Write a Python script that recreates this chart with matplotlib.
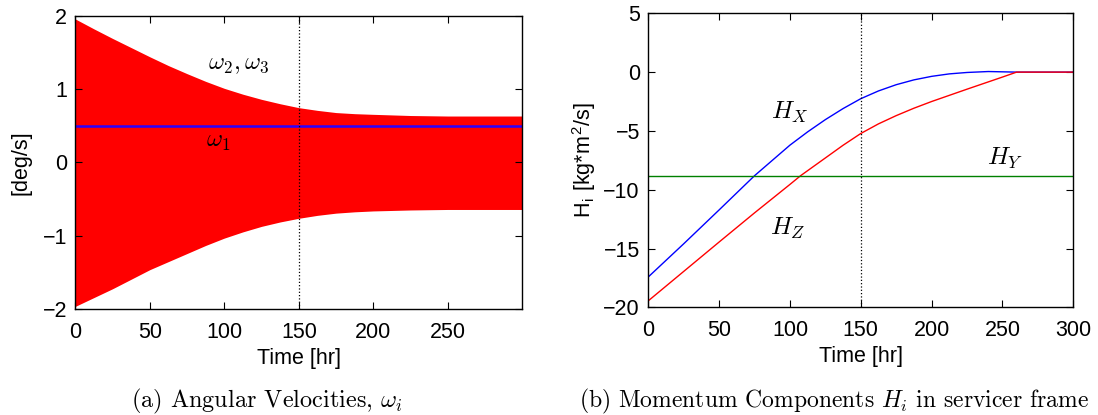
import numpy as np
import matplotlib
matplotlib.use("Agg")
import matplotlib.pyplot as plt

plt.rcParams['font.family'] = ['Liberation Sans', 'DejaVu Sans']
plt.rcParams['mathtext.fontset'] = 'cm'

# (a) envelope of omega_2, omega_3 [deg/s]
t_env = [0, 12.5, 25, 37.5, 50, 62.5, 75, 87.5, 100, 112.5, 125, 137.5, 150,
         162.5, 175, 187.5, 200, 225, 250, 275, 300]
w_upper = [1.955, 1.82, 1.69, 1.565, 1.44, 1.32, 1.21, 1.105, 1.01, 0.93, 0.86, 0.80, 0.747,
           0.71, 0.68, 0.665, 0.656, 0.64, 0.633, 0.633, 0.633]
w_lower = [-1.96, -1.84, -1.72, -1.59, -1.46, -1.35, -1.24, -1.13, -1.03, -0.945, -0.87, -0.81, -0.76,
           -0.72, -0.69, -0.672, -0.66, -0.647, -0.64, -0.64, -0.64]
w1 = 0.5

# (b) momentum components [kg*m^2/s]
t_hx = [0, 25, 50, 75, 100, 112.5, 125, 137.5, 150, 162.5, 175, 187.5, 200, 212.5, 225, 240, 260, 300]
h_x = [-17.42, -14.6, -11.72, -8.81, -6.21, -5.08, -4.04, -3.1, -2.26, -1.6, -1.07, -0.66, -0.36,
       -0.15, -0.03, 0.05, 0.0, 0.0]
t_hz = [0, 25, 50, 75, 100, 107.5, 125, 137.5, 150, 162.5, 175, 187.5, 200, 225, 250, 260, 300]
h_z = [-19.45, -16.95, -14.45, -11.97, -9.55, -8.81, -7.3, -6.22, -5.22, -4.4, -3.7, -3.07, -2.5,
       -1.45, -0.42, 0.0, 0.0]
h_y = -8.84

fig = plt.figure(figsize=(10.98, 4.15), dpi=100)

# 左图
ax1 = fig.add_axes([0.0686, 0.2547, 0.4071, 0.7075])
ax1.fill_between(t_env, w_lower, w_upper, color='#ff0000', lw=0)
ax1.axhline(w1, color='#2b00ff', lw=1.8)
ax1.axvline(150, color='k', ls=':', lw=0.9)
ax1.set_xlim(0, 300)
ax1.set_ylim(-2, 2)
ax1.set_xticks([0, 50, 100, 150, 200, 250])
ax1.set_yticks([-2, -1, 0, 1, 2])
ax1.set_yticklabels(['\u22122', '\u22121', '0', '1', '2'])
ax1.set_xlabel('Time [hr]', fontsize=15.5, labelpad=4)
ax1.set_ylabel('[deg/s]', fontsize=15.5, labelpad=8)
ax1.text(88.9, 1.33, r'$\omega_2,\omega_3$', fontsize=17.5, va='center')
ax1.text(88, 0.28, r'$\omega_1$', fontsize=17.5, va='center')

# 右图
ax2 = fig.add_axes([0.5904, 0.2595, 0.3871, 0.7084])
ax2.plot(t_hx, h_x, color='#0000ff', lw=1)
ax2.plot(t_hz, h_z, color='#ff0000', lw=1)
ax2.axhline(h_y, color='#008000', lw=1)
ax2.axvline(150, color='k', ls=':', lw=0.9)
ax2.set_xlim(0, 300)
ax2.set_ylim(-20, 5)
ax2.set_xticks([0, 50, 100, 150, 200, 250, 300])
ax2.set_yticks([-20, -15, -10, -5, 0, 5])
ax2.set_yticklabels(['\u221220', '\u221215', '\u221210', '\u22125', '0', '5'])
ax2.set_xlabel('Time [hr]', fontsize=15.5, labelpad=4)
ax2.set_ylabel(r'H$_\mathregular{i}$ [kg*m$^\mathregular{2}$/s]', fontsize=15.5, labelpad=4)
ax2.text(86.5, -3.44, r'$H_X$', fontsize=18, va='center')
ax2.text(86, -13.27, r'$H_Z$', fontsize=18, va='center')
ax2.text(239.4, -7.34, r'$H_Y$', fontsize=18, va='center')

for ax in (ax1, ax2):
    ax.tick_params(direction='in', top=True, right=True, labelsize=15.5, length=5, width=0.8)
    ax.tick_params(axis='x', pad=9)
    ax.tick_params(axis='y', pad=6)
    for sp in ax.spines.values():
        sp.set_linewidth(1.0)

fig.text(267 / 1098, 0.0186, r'(a) Angular Velocities, $\omega_i$', fontsize=17.5,
         family='cmr10', ha='center', va='baseline')
fig.text(834 / 1098, 0.0186, r'(b) Momentum Components $H_i$ in servicer frame', fontsize=17,
         family='cmr10', ha='center', va='baseline')

fig.savefig('out.png', dpi=100)
